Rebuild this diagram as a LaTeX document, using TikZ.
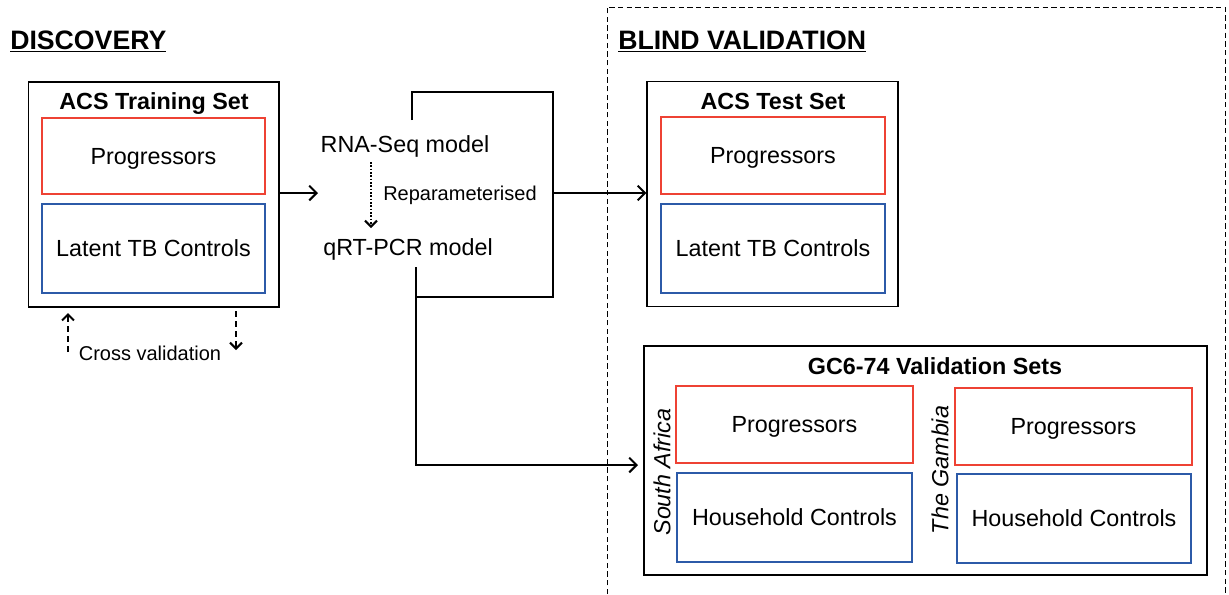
\documentclass[tikz,border=0pt]{standalone}
\usepackage{fontspec}
\setmainfont{Liberation Sans}
\usetikzlibrary{arrows.meta}
\definecolor{pred}{RGB}{238,66,52}
\definecolor{pblue}{RGB}{44,90,168}
\begin{document}
\begin{tikzpicture}[x=0.75pt,y=-0.75pt,
  outer/.style={draw=black,line width=0.9pt,inner sep=0pt},
  redbox/.style={draw=pred,line width=1.7pt,inner sep=0pt,font=\fontsize{17.5}{20}\selectfont,text height=12.5pt,text depth=0pt},
  bluebox/.style={draw=pblue,line width=1.7pt,inner sep=0pt,font=\fontsize{17.5}{20}\selectfont,text height=12.5pt,text depth=0pt},
  lbl/.style={font=\fontsize{17.5}{20}\selectfont,inner sep=0pt,text height=12.5pt,text depth=0pt},
  ttl/.style={font=\fontsize{17.5}{20}\selectfont\bfseries,inner sep=0pt,text height=12.5pt,text depth=0pt},
  small/.style={font=\fontsize{15}{18}\selectfont,inner sep=0pt,text height=10.7pt,text depth=0pt},
  head/.style={font=\fontsize{20}{24}\selectfont\bfseries,inner sep=0pt,anchor=base west},
  conn/.style={line width=1.5pt},
  arr/.style={line width=1.5pt,-{Straight Barb[length=5.5pt,width=11pt]}},
  dasharr/.style={line width=1.5pt,dash pattern=on 4.5pt off 3pt,-{Straight Barb[length=4.5pt,width=9pt]}},
  dotarr/.style={line width=1.5pt,dash pattern=on 1.2pt off 1.3pt,-{Straight Barb[length=4.5pt,width=9pt]}},
]
\useasboundingbox (0,0) rectangle (1229,594);

% headings
\node[head] (hdisc) at (10,49) {\underline{DISCOVERY}};
\node[head] (hblind) at (618,49) {\underline{BLIND VALIDATION}};

% dashed validation region
\draw[line width=0.6pt,dash pattern=on 4pt off 2.5pt] (607,594) -- (607,7) -- (1225,7) -- (1225,594);

% ACS training set
\node[outer,minimum width=187.9pt,minimum height=168.75pt] (train) at (153.75,194.5) {};
\node[ttl] (trainttl) at (154,101) {ACS Training Set};
\node[redbox,minimum width=167.25pt,minimum height=57pt] (trainprog) at (153.5,156) {Progressors};
\node[bluebox,minimum width=167.25pt,minimum height=66.75pt] (trainlat) at (153.5,248.5) {Latent TB Controls};

% cross validation
\coordinate (cvup0) at (68,352);
\coordinate (cvup1) at (68,313);
\coordinate (cvdn0) at (236,311);
\coordinate (cvdn1) at (236,350);
\draw[dasharr] (cvup0) -- (cvup1);
\draw[dasharr] (cvdn0) -- (cvdn1);
\node[small] (cv) at (150,353) {Cross validation};

% models
\node[lbl] (rna) at (405,144) {RNA-Seq model};
\node[lbl] (qpcr) at (408,247) {qRT-PCR model};
\node[small,anchor=west] (repar) at (383,193) {Reparameterised};
\coordinate (rp0) at (371,162);
\coordinate (rp1) at (371,228);
\draw[dotarr] (rp0) -- (rp1);

% arrow training -> models
\coordinate (min) at (318,193);
\draw[arr] (train.east |- min) -- (min);

% bracket
\coordinate (bt) at (412,120);
\coordinate (br) at (553,92);
\coordinate (bb) at (553,297);
\coordinate (bl) at (416,297);
\draw[conn] (bt) |- (br) -- (bb) -- (bl);
\coordinate (bout) at (553,193);

% ACS test set
\node[outer,minimum width=188.25pt,minimum height=168.75pt] (test) at (772.5,194) {};
\node[ttl] (testttl) at (773,101) {ACS Test Set};
\node[redbox,minimum width=168pt,minimum height=57.75pt] (testprog) at (773,155.5) {Progressors};
\node[bluebox,minimum width=168pt,minimum height=66.75pt] (testlat) at (773,248.5) {Latent TB Controls};
\draw[arr] (bout) -- (test.west |- bout);

% GC6-74
\node[outer,minimum width=422.25pt,minimum height=171.75pt] (gc) at (925.5,460.5) {};
\node[ttl] (gcttl) at (935,366) {GC6-74 Validation Sets};
\node[redbox,minimum width=177.75pt,minimum height=57.75pt] (saprog) at (794.5,424.5) {Progressors};
\node[bluebox,minimum width=176.25pt,minimum height=66.75pt] (sahh) at (794.5,517.5) {Household Controls};
\node[redbox,minimum width=177.75pt,minimum height=57.75pt] (gmprog) at (1073.5,426.5) {Progressors};
\node[bluebox,minimum width=175.5pt,minimum height=66.75pt] (gmhh) at (1074,518.5) {Household Controls};
\node[lbl,font=\fontsize{17.5}{20}\selectfont\itshape,rotate=90] (sa) at (662,472) {South Africa};
\node[lbl,font=\fontsize{17.5}{20}\selectfont\itshape,rotate=90] (gm) at (940,470) {The Gambia};

% qRT-PCR -> GC6
\coordinate (q0) at (416,267);
\coordinate (gcin) at (638,465);
\draw[arr] (q0) |- (gcin);
\end{tikzpicture}
\end{document}
